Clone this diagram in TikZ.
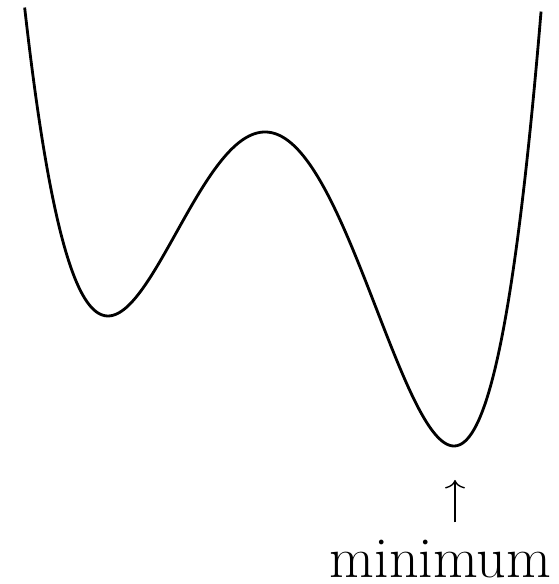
\documentclass[tikz,border=0pt]{standalone}
\usetikzlibrary{arrows.meta}
\tikzset{
  curve/.style={line width=1.6pt},
  pointer/.style={line width=0.8pt,-{Computer Modern Rightarrow[length=0.17cm,width=0.4cm]}},
  caption/.style={inner sep=0pt,font=\fontsize{33}{40}\selectfont}
}
\begin{document}
\begin{tikzpicture}[x=0.02cm,y=0.02cm]
\useasboundingbox (0,0) rectangle (558,584);
% double well
\draw[curve,samples=240,smooth,domain=-2.4035:2.763,variable=\t]
  plot ({265+100*\t},{452+108.584*(0.25*\t*\t*\t*\t-0.10667*\t*\t*\t-1.48365*\t*\t)
    +2.3367*(0.2*\t*\t*\t*\t*\t-0.08*\t*\t*\t*\t-0.9891*\t*\t*\t)});
\coordinate (well) at (455,138);
\node[caption,anchor=base] (label) at (440.5,6.5) {minimum};
\draw[pointer,shorten <=0.35cm,shorten >=0.68cm] (label.north -| well) -- (well);
\end{tikzpicture}
\end{document}
